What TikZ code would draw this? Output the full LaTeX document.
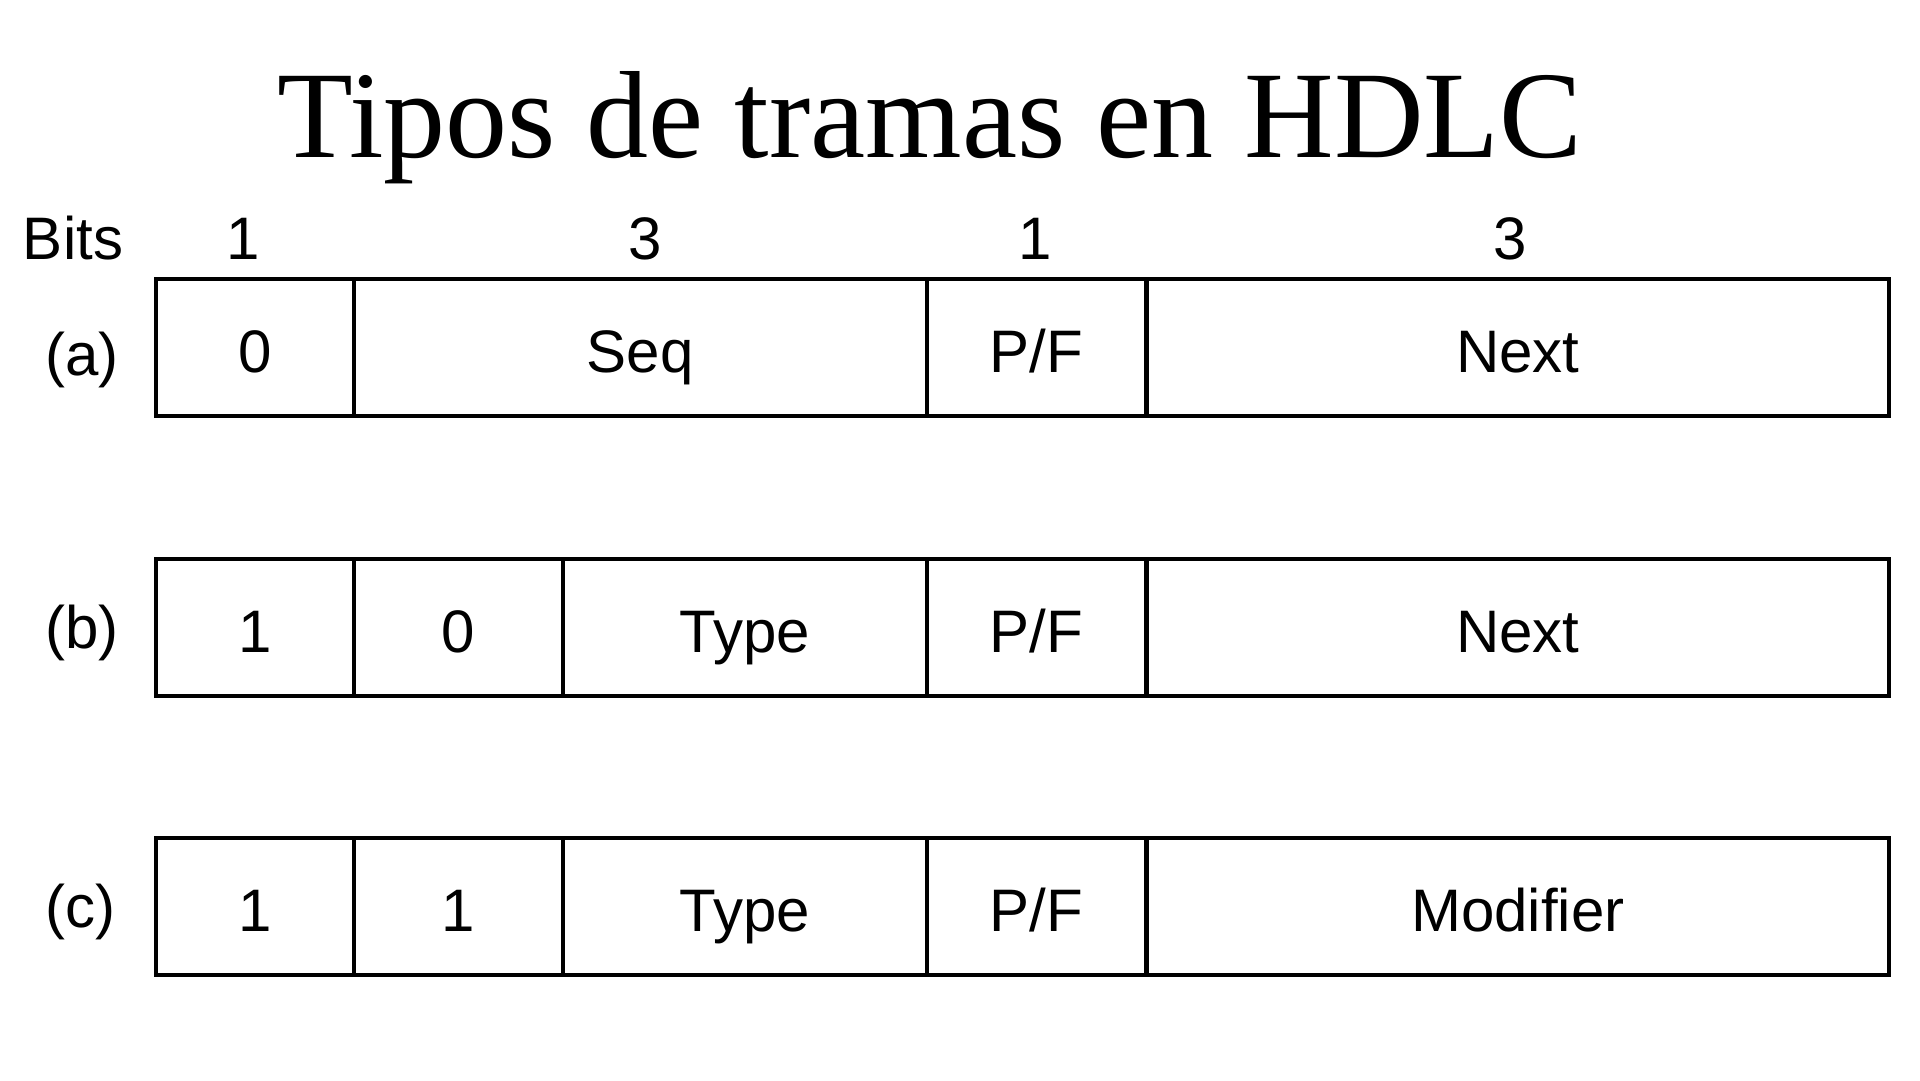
\documentclass[tikz,border=0pt]{standalone}
\usepackage{fontspec}
\setmainfont{Liberation Sans}
\newfontfamily\titlefont{Liberation Serif}
\begin{document}
\begin{tikzpicture}[x=1pt,y=-1pt,
  cell/.style={draw=black, line width=3.5pt, rectangle, anchor=north west,
    minimum height=137pt, inner sep=0pt, text height=51pt, text depth=0pt,
    font=\fontsize{60}{60}\selectfont},
  lbl/.style={font=\fontsize{60}{60}\selectfont, text height=43pt, text depth=0pt, inner sep=0pt}]
\useasboundingbox[fill=white] (0,0) rectangle (1920,1080);

% title
\node[anchor=base, inner sep=0pt, font=\titlefont\fontsize{124}{130}\selectfont]
  (title) at (930,157) {Tipos de tramas en HDLC};

% bit widths
\node[lbl] (bits) at (73,238) {Bits};
\node[lbl] (w1) at (243,238) {1};
\node[lbl] (w2) at (645,238) {3};
\node[lbl] (w3) at (1035,238) {1};
\node[lbl] (w4) at (1510,238) {3};

% frame (a)
\node[lbl] (la) at (82,354) {(a)};
\node[cell, minimum width=198pt] (a1) at (154,277) {0};
\node[cell, minimum width=573pt] (a2) at (352,277) {Seq};
\node[cell, minimum width=219pt] (a3) at (925,277) {P/F};
\node[cell, minimum width=742pt] (a4) at (1145,277) {Next};

% frame (b)
\node[lbl] (lb) at (82,627) {(b)};
\node[cell, minimum width=198pt] (b1) at (154,557) {1};
\node[cell, minimum width=209pt] (b2) at (352,557) {0};
\node[cell, minimum width=364pt] (b3) at (561,557) {Type};
\node[cell, minimum width=219pt] (b4) at (925,557) {P/F};
\node[cell, minimum width=742pt] (b5) at (1145,557) {Next};

% frame (c)
\node[lbl] (lc) at (80,906) {(c)};
\node[cell, minimum width=198pt] (c1) at (154,836) {1};
\node[cell, minimum width=209pt] (c2) at (352,836) {1};
\node[cell, minimum width=364pt] (c3) at (561,836) {Type};
\node[cell, minimum width=219pt] (c4) at (925,836) {P/F};
\node[cell, minimum width=742pt] (c5) at (1145,836) {Modifier};
\end{tikzpicture}
\end{document}
